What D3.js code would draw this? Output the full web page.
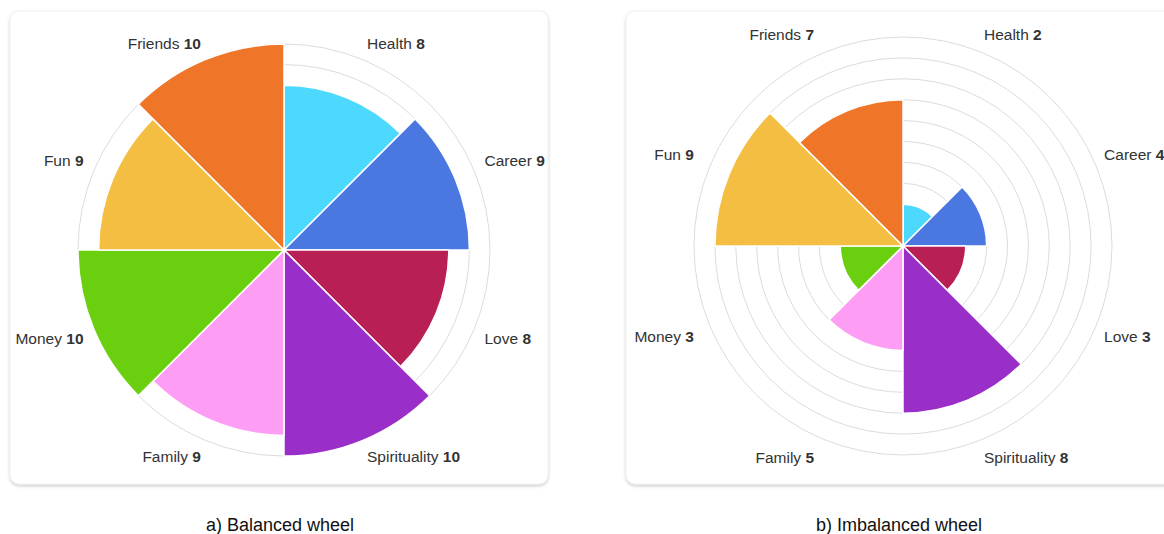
<!DOCTYPE html>
<html><head><meta charset="utf-8">
<script src="https://cdn.jsdelivr.net/npm/d3@7"></script>
<style>
html,body{margin:0;padding:0;background:#fff;}
svg{display:block;font-family:"Liberation Sans",Arial,Helvetica,sans-serif;}
</style></head>
<body>
<svg id="chart" width="1164" height="534"></svg>
<script>
const categories = ["Health","Career","Love","Spirituality","Family","Money","Fun","Friends"];
const colors = ["#4dd9fe","#4a78e0","#b71f55","#9a2ec9","#fd9df3","#6acf0e","#f3be42","#ef7628"];
const balancedValues = [8,9,8,10,9,10,9,10];
const imbalancedValues = [2,4,3,8,5,3,9,7];
const gridTicks = [1,2,3,4,5,6,7,8,9,10];
const captions = ["a) Balanced wheel","b) Imbalanced wheel"];

const svg = d3.select("#chart");
const defs = svg.append("defs");
const f = defs.append("filter").attr("id","shadow").attr("x","-5%").attr("y","-5%").attr("width","110%").attr("height","115%");
f.append("feDropShadow").attr("dx",0).attr("dy",1.5).attr("stdDeviation",1.6).attr("flood-color","#000").attr("flood-opacity",0.22);

const panels = [
  {values: balancedValues, card:{x:10,y:11,w:538,h:473}, cx:284, cy:250, maxR:206, labR:217, labDx:0, capX:280},
  {values: imbalancedValues, card:{x:626,y:11,w:548,h:473}, cx:903, cy:246, maxR:209, labR:222, labDx:-4, capX:899}
];

panels.forEach((p,pi)=>{
  const g = svg.append("g");
  g.append("rect").attr("x",p.card.x).attr("y",p.card.y).attr("width",p.card.w).attr("height",p.card.h)
    .attr("rx",9).attr("fill","#fff").attr("stroke","#f0f0f0").attr("stroke-width",1).attr("filter","url(#shadow)");
  const r = d3.scaleLinear().domain([0,10]).range([0,p.maxR]);
  const a = d3.scaleBand().domain(categories).range([0,2*Math.PI]).padding(0);
  const wheel = g.append("g").attr("transform",`translate(${p.cx},${p.cy})`);
  wheel.selectAll("circle.grid").data(gridTicks).join("circle").attr("class","grid")
    .attr("r",d=>r(d)).attr("fill","none").attr("stroke","#dcdcdc").attr("stroke-width",1);
  const arc = d3.arc().innerRadius(0).outerRadius(d=>r(d.v))
    .startAngle(d=>a(d.c)).endAngle(d=>a(d.c)+a.bandwidth());
  const data = categories.map((c,i)=>({c, v:p.values[i], col:colors[i]}));
  wheel.selectAll("path.slice").data(data).join("path").attr("class","slice")
    .attr("d",arc).attr("fill",d=>d.col).attr("stroke","#fff").attr("stroke-width",1.5).attr("stroke-linejoin","round");
  wheel.selectAll("text.lab").data(data).join("text").attr("class","lab")
    .each(function(d){
      const ang = a(d.c)+a.bandwidth()/2;
      const s = Math.sin(ang), c = Math.cos(ang);
      const x = p.labR*s + p.labDx;
      const y = -p.labR*c - Math.sign(c)*6;
      const t = d3.select(this).attr("x",x).attr("y",y).attr("dy","0.35em")
        .attr("text-anchor", s>0 ? "start" : "end")
        .attr("font-size",15.5).attr("fill","#333");
      t.append("tspan").text(d.c+" ");
      t.append("tspan").attr("font-weight","bold").text(d.v);
    });
  svg.append("text").attr("x",p.capX).attr("y",525).attr("dy","0.35em").attr("text-anchor","middle")
    .attr("font-size",18).attr("fill","#111").text(captions[pi]);
});
</script>
</body></html>
